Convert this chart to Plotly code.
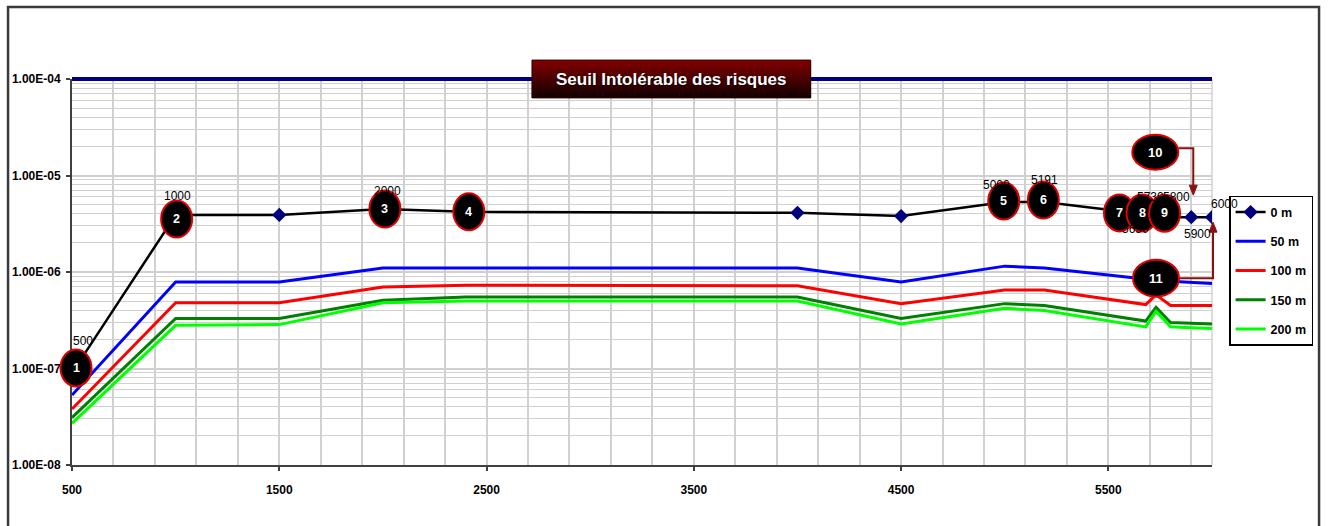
import numpy as np
import plotly.graph_objects as go

# ---------------- data ----------------
distances = [500, 1000, 1500, 2000, 2400, 4000, 4500, 5000, 5191, 5650, 5730, 5800, 5900, 6000]
distances_zones = [500, 1000, 1500, 2000, 2400, 4000, 4500, 5000, 5191, 5680, 5730, 5800, 5900, 6000]

risk_0m = [9.0e-8, 3.9e-6, 3.9e-6, 4.5e-6, 4.2e-6, 4.1e-6, 3.8e-6, 5.3e-6, 5.3e-6, 4.0e-6, 3.8e-6, 3.7e-6, 3.7e-6, 3.7e-6]
risk_50m = [5.3e-8, 7.9e-7, 7.9e-7, 1.1e-6, 1.1e-6, 1.1e-6, 7.9e-7, 1.15e-6, 1.1e-6, 8.3e-7, 8.2e-7, 8.0e-7, 7.8e-7, 7.6e-7]
risk_100m = [3.8e-8, 4.8e-7, 4.8e-7, 7.0e-7, 7.3e-7, 7.2e-7, 4.7e-7, 6.5e-7, 6.5e-7, 4.6e-7, 5.8e-7, 4.5e-7, 4.5e-7, 4.5e-7]
risk_150m = [3.1e-8, 3.3e-7, 3.3e-7, 5.1e-7, 5.5e-7, 5.5e-7, 3.3e-7, 4.7e-7, 4.5e-7, 3.1e-7, 4.3e-7, 3.0e-7, 2.95e-7, 2.9e-7]
risk_200m = [2.7e-8, 2.8e-7, 2.85e-7, 4.8e-7, 5.0e-7, 5.0e-7, 2.9e-7, 4.2e-7, 4.0e-7, 2.7e-7, 3.9e-7, 2.7e-7, 2.65e-7, 2.6e-7]

series_names = ["0 m", "50 m", "100 m", "150 m", "200 m"]
series_colors = ["#000000", "#0000FF", "#FF0000", "#008000", "#00FF00"]

threshold = 1e-4
threshold_label = "Seuil Intolérable des risques"

x_range = [500, 6000]
y_range_log = [-8, -4]
x_tick_vals = [500, 1500, 2500, 3500, 4500, 5500]
y_tick_vals = [1e-8, 1e-7, 1e-6, 1e-5, 1e-4]
y_tick_text = ["1.00E-08", "1.00E-07", "1.00E-06", "1.00E-05", "1.00E-04"]

labelled_points = [500, 1000, 2000, 5000, 5191, 5650, 5730, 5800, 5900, 6000]
callout_numbers = ["1", "2", "3", "4", "5", "6", "7", "8", "9", "10", "11"]
callout_points = [500, 1000, 2000, 2400, 5000, 5191, 5650, 5730, 5800, 5900, 6000]

# ---------------- styling (pixel offsets) ----------------
FONT = "Liberation Sans, Arial, sans-serif"
GRID = "#d0d0d0"
AXIS = "#404040"
ARROW = "#8b1010"

label_offsets = {500: (11, 32), 1000: (2, 19), 2000: (5, 18), 5000: (-8, 17), 5191: (0, 22),
                 5650: (-4, -15), 5730: (-6, 19), 5800: (6, 20), 5900: (6, -17), 6000: (12, 13)}
callout_style = {"1": (4, 5, 31, 37), "2": (1, -4, 31, 37), "3": (2, 0, 31, 37), "4": (3, 0, 31, 37),
                 "5": (-1, 1, 31, 37), "6": (-1, 2, 31, 37), "7": (-20, 1, 31, 37),
                 "8": (-14, 3, 31, 37), "9": (-6, 4, 31, 37), "10": (-36, 65, 46, 35),
                 "11": (-56, -61, 46, 37)}


def px(d):
    """data x -> paper fraction"""
    return (d - x_range[0]) / (x_range[1] - x_range[0])


def py(v):
    """data y (log axis) -> paper fraction"""
    return (np.log10(v) - y_range_log[0]) / (y_range_log[1] - y_range_log[0])


fig = go.Figure()

all_series = [risk_0m, risk_50m, risk_100m, risk_150m, risk_200m]
for k, (name, color, vals) in enumerate(zip(series_names, series_colors, all_series)):
    if k == 0:
        fig.add_trace(go.Scatter(
            x=distances, y=vals, name=name, mode="lines+markers",
            line=dict(color=color, width=2.5),
            marker=dict(symbol="diamond", size=11, color="#000080", line=dict(width=0)),
            legendgroup=name))
    else:
        fig.add_trace(go.Scatter(
            x=distances_zones, y=vals, name=name, mode="lines",
            line=dict(color=color, width=3), legendgroup=name))

shapes = []
annotations = []

# outer frame
shapes.append(dict(type="rect", xref="paper", yref="paper", x0=-0.0561, x1=1.0939, y0=-0.4, y1=1.1865,
                   line=dict(color="#3a3a3a", width=2.5), fillcolor="rgba(0,0,0,0)", layer="below"))
# right plot edge
shapes.append(dict(type="line", xref="paper", yref="paper", x0=1, x1=1, y0=0, y1=1,
                   line=dict(color=GRID, width=1.5), layer="below"))
# threshold line
shapes.append(dict(type="line", xref="paper", yref="paper", x0=0, x1=1,
                   y0=float(py(threshold)), y1=float(py(threshold)),
                   line=dict(color="#000080", width=4), layer="above"))

# title box with vertical gradient (overlapping layers: no seams)
n_strips = 20
bx0, bx1, by0, by1 = 0.4035, 0.648, 0.951, 1.049
for s in range(n_strips):
    t = s / (n_strips - 1)
    r = int(128 - 108 * t)
    y_top = by1 - (by1 - by0) * s / n_strips
    shapes.append(dict(type="rect", xref="paper", yref="paper", x0=bx0, x1=bx1, y0=by0, y1=y_top,
                       line=dict(width=0), fillcolor=f"rgb({r},0,0)", layer="above"))
shapes.append(dict(type="rect", xref="paper", yref="paper", x0=bx0, x1=bx1, y0=by0, y1=by1,
                   line=dict(color="#2a0000", width=1), fillcolor="rgba(0,0,0,0)", layer="above"))
annotations.append(dict(xref="paper", yref="paper", x=(bx0 + bx1) / 2, y=(by0 + by1) / 2,
                        xanchor="center", yanchor="middle",
                        text=threshold_label, showarrow=False,
                        font=dict(family=FONT, size=17, color="white", weight="bold",
                                  shadow="1px 1px 1px #000000")))

# point labels on the 0 m curve
for d in labelled_points:
    i = distances.index(d)
    dx, dy = label_offsets[d]
    annotations.append(dict(x=d, y=float(np.log10(risk_0m[i])), xref="x", yref="y",
                            xanchor="center", yanchor="middle",
                            xshift=dx, yshift=dy, text=str(d), showarrow=False,
                            font=dict(family=FONT, size=12, color="black")))


def pixel_shape(d, v, **kw):
    base = dict(xref="paper", yref="paper", xsizemode="pixel", ysizemode="pixel",
                xanchor=float(px(d)), yanchor=float(py(v)), layer="above")
    base.update(kw)
    return base


# arrows for callouts 10 and 11
i10 = distances.index(5900)
shapes.append(pixel_shape(distances[i10], risk_0m[i10], type="path",
                          path="M -13 69 L 2 69 L 2 30", line=dict(color=ARROW, width=2)))
shapes.append(pixel_shape(distances[i10], risk_0m[i10], type="path",
                          path="M -2 32 L 6 32 L 2 22 Z", line=dict(color=ARROW, width=1),
                          fillcolor=ARROW))
i11 = distances.index(6000)
shapes.append(pixel_shape(distances[i11], risk_0m[i11], type="path",
                          path="M -33 -61 L 1 -61 L 1 -13", line=dict(color=ARROW, width=2)))
shapes.append(pixel_shape(distances[i11], risk_0m[i11], type="path",
                          path="M -3 -15 L 5 -15 L 1 -5 Z", line=dict(color=ARROW, width=1),
                          fillcolor=ARROW))

# numbered callouts
for num, d in zip(callout_numbers, callout_points):
    i = distances.index(d)
    dx, dy, w, h = callout_style[num]
    shapes.append(pixel_shape(d, risk_0m[i], type="circle",
                              x0=dx - w / 2, x1=dx + w / 2, y0=dy - h / 2, y1=dy + h / 2,
                              fillcolor="black", line=dict(color="#e00000", width=2)))
    annotations.append(dict(x=d, y=float(np.log10(risk_0m[i])), xref="x", yref="y",
                            xanchor="center", yanchor="middle",
                            xshift=dx, yshift=dy, text=num, showarrow=False,
                            font=dict(family=FONT, size=13 if len(num) > 1 else 12.5,
                                      color="white", weight="bold")))

minor_y = [k * 10.0 ** e for e in range(-8, -4) for k in range(2, 10)]

fig.update_layout(
    width=1328, height=526,
    margin=dict(l=72, r=116, t=79, b=61, autoexpand=False),
    paper_bgcolor="white", plot_bgcolor="white",
    shapes=shapes, annotations=annotations,
    showlegend=True,
    legend=dict(x=1.015, xanchor="left", y=0.697, yanchor="top",
                bordercolor="black", borderwidth=1.5, bgcolor="white",
                font=dict(family=FONT, size=12.5, color="black", weight="bold"),
                tracegroupgap=10, itemwidth=30),
    xaxis=dict(range=x_range, tickmode="array", tickvals=x_tick_vals,
               ticks="outside", ticklen=4, tickwidth=1.5, tickcolor=AXIS,
               showline=True, linecolor=AXIS, linewidth=2,
               showgrid=True, gridcolor=GRID, gridwidth=1.5, zeroline=False,
               minor=dict(tickmode="linear", tick0=500, dtick=200, showgrid=True,
                          gridcolor=GRID, gridwidth=1.5, ticks=""),
               tickfont=dict(family=FONT, size=12, color="black", weight="bold"),
               ticklabelstandoff=9),
    yaxis=dict(type="log", range=y_range_log, tickmode="array", tickvals=y_tick_vals,
               ticktext=y_tick_text, ticks="outside", ticklen=4, tickwidth=1.5, tickcolor=AXIS,
               showline=True, linecolor=AXIS, linewidth=2,
               showgrid=True, gridcolor=GRID, gridwidth=1.5, zeroline=False,
               minor=dict(tickmode="array", tickvals=minor_y, showgrid=True,
                          gridcolor=GRID, gridwidth=1.2, ticks=""),
               tickfont=dict(family=FONT, size=12, color="black", weight="bold"),
               ticklabelstandoff=3),
)

fig.write_html("out.html")
